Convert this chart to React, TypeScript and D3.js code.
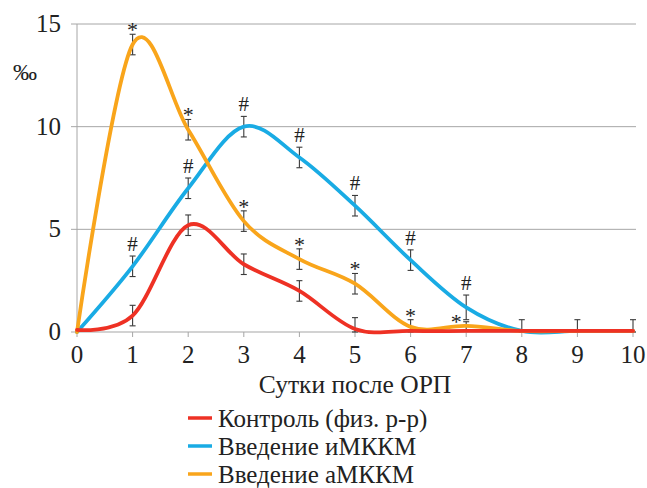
import * as d3 from 'd3'

// days after ORP
const days = [0, 1, 2, 3, 4, 5, 6, 7, 8, 9, 10]
const yTicks = [0, 5, 10, 15]

const control = [0.1, 0.8, 5.2, 3.3, 2.0, 0.15, 0.05, 0.05, 0.05, 0.05, 0.05]
const controlErr = [0, 0.5, 0.5, 0.5, 0.5, 0.55, 0, 0, 0.55, 0.55, 0.55]

const imkkm = [0, 3.2, 7.0, 10.0, 8.5, 6.15, 3.5, 1.2, 0.05, 0.05, 0.05]
const imkkmErr = [0, 0.5, 0.5, 0.5, 0.5, 0.5, 0.5, 0.6, 0, 0, 0]

const amkkm = [0, 14.0, 9.85, 5.4, 3.55, 2.35, 0.25, 0.3, 0.05, 0.05, 0.05]
const amkkmErr = [0, 0.5, 0.5, 0.5, 0.5, 0.5, 0.35, 0.2, 0, 0, 0]

const legendLabels = ['Контроль (физ. р-р)', 'Введение иМККМ', 'Введение аМККМ']

const colors = { control: '#ee3124', imkkm: '#19abe4', amkkm: '#f9a51b' }

const W = 647
const H = 488
const margin = { left: 77, right: 14, top: 24, bottom: 156 }
const serif = 'Liberation Serif'

export default function App() {
  const x = d3.scaleLinear().domain([0, 10]).range([margin.left, W - margin.right])
  const y = d3.scaleLinear().domain([0, 15]).range([H - margin.bottom, margin.top])

  const line = d3
    .line<number>()
    .x((_, i) => x(days[i]))
    .y(d => y(d))
    .curve(d3.curveCardinal.tension(0))

  const series = [
    { key: 'imkkm', values: imkkm, err: imkkmErr, color: colors.imkkm, mark: '#' },
    { key: 'amkkm', values: amkkm, err: amkkmErr, color: colors.amkkm, mark: '*' },
    { key: 'control', values: control, err: controlErr, color: colors.control, mark: '' },
  ]

  const x0 = x(0)
  const x1 = x(10) + 3
  const y0 = y(0)
  const grid = '#a6a6a6'

  const errBar = (cx: number, v: number, e: number, k: string) => {
    const top = y(v + e)
    const bot = y(Math.max(0, v - e))
    return (
      <g key={k} stroke="#3a3a3a" strokeWidth={1.1}>
        <line x1={cx} x2={cx} y1={top} y2={bot} />
        <line x1={cx - 3} x2={cx + 3} y1={top} y2={top} />
        <line x1={cx - 3} x2={cx + 3} y1={bot} y2={bot} />
      </g>
    )
  }

  return (
    <div style={{ position: 'absolute', left: 0, top: 0 }}>
      <svg width={W} height={H} style={{ display: 'block', background: '#fff' }}>
        {/* grid */}
        {yTicks.map(t => (
          <g key={'g' + t}>
            {t > 0 && <line x1={x0} x2={x1} y1={y(t)} y2={y(t)} stroke={grid} strokeWidth={1} />}
            <line x1={x0 - 6} x2={x0} y1={y(t)} y2={y(t)} stroke={grid} strokeWidth={1} />
          </g>
        ))}
        <line x1={x0} x2={x0} y1={y(15)} y2={y0} stroke={grid} strokeWidth={1} />
        <line x1={x0} x2={x1} y1={y0} y2={y0} stroke={grid} strokeWidth={1.2} />
        {days.map(d => (
          <line key={'xt' + d} x1={x(d)} x2={x(d)} y1={y0} y2={y0 + 5} stroke={grid} strokeWidth={1} />
        ))}

        {/* error bars */}
        {series.map(s =>
          s.values.map((v, i) => (s.err[i] > 0 ? errBar(x(days[i]), v, s.err[i], s.key + i) : null))
        )}

        {/* lines */}
        {series.map(s => (
          <path
            key={s.key}
            d={line(s.values) || ''}
            fill="none"
            stroke={s.color}
            strokeWidth={3.8}
            strokeLinejoin="round"
            strokeLinecap="round"
          />
        ))}

        <g fontFamily={serif} fill="#222">
          {yTicks.map(t => (
            <text key={'yl' + t} x={x0 - 16} y={y(t) + 8} textAnchor="end" fontSize={25} fontFamily={serif}>
              {t}
            </text>
          ))}
          {days.map(d => (
            <text key={'xl' + d} x={x(d)} y={y0 + 31} textAnchor="middle" fontSize={25} fontFamily={serif}>
              {d}
            </text>
          ))}
          <text x={25} y={80} textAnchor="middle" fontSize={24} fontFamily={serif}>
            ‰
          </text>
          <text x={355} y={393} textAnchor="middle" fontSize={25.5} fontFamily={serif}>
            Сутки после ОРП
          </text>

          {/* significance marks */}
          {series
            .filter(s => s.mark)
            .map(s =>
              s.values.map((v, i) => {
                if (i < 1 || i > 7) return null
                const top = y(v + s.err[i])
                const star = s.mark === '*'
                const side = star && i === 7
                return (
                  <text
                    key={s.key + 'm' + i}
                    x={side ? x(days[i]) - 10 : x(days[i])}
                    y={side ? top + 7 : star ? top + 3 : top - 5}
                    textAnchor="middle"
                    fontSize={star ? 22 : 21}
                    fontFamily={serif}
                  >
                    {s.mark}
                  </text>
                )
              })
            )}

          {/* legend */}
          {[colors.control, colors.imkkm, colors.amkkm].map((c, i) => (
            <g key={'lg' + i} transform={`translate(188,${418 + i * 28})`}>
              <line x1={0} x2={24} y1={0} y2={0} stroke={c} strokeWidth={3.5} />
              <text x={30} y={8.5} fontSize={25} fontFamily={serif}>
                {legendLabels[i]}
              </text>
            </g>
          ))}
        </g>
      </svg>
    </div>
  )
}
